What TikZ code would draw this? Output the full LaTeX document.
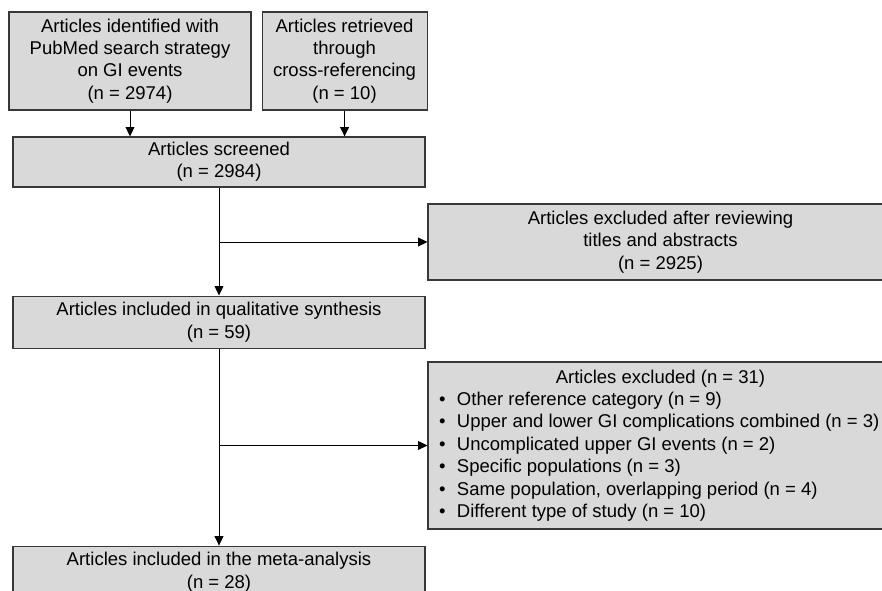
\documentclass[tikz,border=0pt]{standalone}
\usepackage{fontspec}
\setmainfont{Liberation Sans}
\usepackage{xcolor}
\usepackage{tikz}
\usetikzlibrary{arrows.meta, positioning, calc}
\definecolor{boxgray}{rgb}{0.85, 0.85, 0.85}
\definecolor{edgegray}{rgb}{0.22, 0.22, 0.22}
\tikzstyle{flowbox} = [rectangle, minimum height=1.5cm, text centered, align=center, draw=edgegray, line width=0.9pt, fill=boxgray, inner sep=0pt]
\tikzstyle{arrow} = [line width=0.8pt, -{Triangle[length=8pt, width=7.5pt]}]
\newcommand{\bulletitem}{\makebox[0.54cm][l]{\textbullet}}

\begin{document}
\begin{tikzpicture}[font=\fontsize{15.8}{19.1}\selectfont]
    \useasboundingbox (0,0) rectangle (26.46,17.73);
    \clip (0,0) rectangle (26.46,17.73);
    % sources
    \node (ident) [flowbox, minimum width=7.26cm, minimum height=2.94cm] at (3.90,15.90) {Articles identified with\\PubMed search strategy\\on GI events\\(n = 2974)};
    \node (retr) [flowbox, right=0.3cm of ident, minimum width=4.95cm, minimum height=2.94cm] {Articles retrieved\\through\\cross-referencing\\(n = 10)};
    % main column
    \node (screened) [flowbox, minimum width=12.36cm] at (6.57,12.87) {Articles screened\\(n = 2984)};
    \node (qual) [flowbox, below=3.24cm of screened, minimum width=12.36cm, minimum height=1.56cm] {Articles included in qualitative synthesis\\(n = 59)};
    \node (meta) [flowbox, below=5.91cm of qual, minimum width=12.36cm, minimum height=1.56cm] {Articles included in the meta-analysis\\(n = 28)};
    % exclusions
    \node (excl1) [flowbox, minimum width=13.95cm, minimum height=2.28cm] at (19.815,10.47) {Articles excluded after reviewing\\titles and abstracts\\(n = 2925)};
    \node (excl2) [flowbox, minimum width=13.95cm, minimum height=5.01cm, inner xsep=0.33cm, align=left] at (19.815,4.365) {%
        \makebox[13.29cm]{Articles excluded (n = 31)}\\
        \bulletitem Other reference category (n = 9)\\
        \bulletitem Upper and lower GI complications combined (n = 3)\\
        \bulletitem Uncomplicated upper GI events (n = 2)\\
        \bulletitem Specific populations (n = 3)\\
        \bulletitem Same population, overlapping period (n = 4)\\
        \bulletitem Different type of study (n = 10)};
    % connectors
    \draw [arrow] (ident.south) -- (ident.south |- screened.north);
    \draw [arrow] (retr.south) -- (retr.south |- screened.north);
    \draw [arrow] (screened) -- (qual);
    \draw [arrow] (screened.south |- excl1.west) -- (excl1.west);
    \draw [arrow] (qual) -- (meta);
    \draw [arrow] (qual.south |- excl2.west) -- (excl2.west);
\end{tikzpicture}
\end{document}
